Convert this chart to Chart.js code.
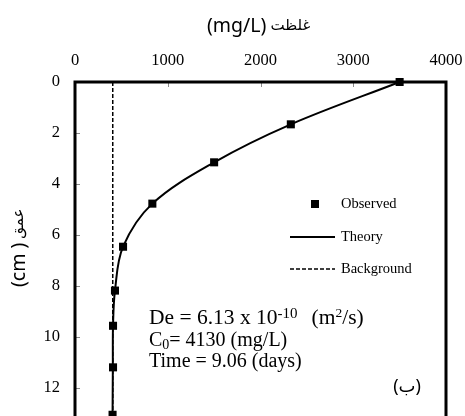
<!DOCTYPE html>
<html>
<head>
<meta charset="utf-8">
<script src="https://cdn.jsdelivr.net/npm/chart.js@4"></script>
<style>
  html, body { margin: 0; padding: 0; background: #fff; overflow: hidden; }
</style>
</head>
<body>
<canvas id="chart" width="465" height="450"></canvas>
<script>
// depth (cm) vs concentration (mg/L)
const observedDepth = [0, 1.66, 3.15, 4.77, 6.46, 8.18, 9.56, 11.19, 13.05];
const observedConc  = [3500, 2327, 1500, 834, 518, 431, 410, 410, 405];

const theoryDepth = [0, 1.66, 3.15, 4.77, 6.46, 8.18, 9.56, 11.19, 13.05, 14];
const theoryConc  = [3500, 2327, 1500, 834, 518, 431, 410, 408, 405, 404];

const backgroundDepth = [0, 14];
const backgroundConc  = [407, 407];

const xTicks = [0, 1000, 2000, 3000, 4000];
const yTicks = [0, 2, 4, 6, 8, 10, 12, 14];

const legendLabels = ["Observed", "Theory", "Background"];
const xTitle = ["(mg/L)", "غلظت"];
const yTitle = ["(cm )", "عمق"];
const panelLabel = "(ب)";

const serif = "'Liberation Serif', 'Times New Roman', serif";
const sans = "'Noto Sans', 'DejaVu Sans', sans-serif";

const toPoints = (xs, ys) => xs.map((v, i) => ({ x: v, y: ys[i] }));

// latin part bigger than the arabic word, as in the source figure
function drawTitle(ctx, parts, x0, y0) {
  ctx.textAlign = "left";
  ctx.textBaseline = "middle";
  ctx.font = "19.5px " + sans;
  ctx.fillText(parts[0], x0, y0);
  const w = ctx.measureText(parts[0]).width;
  ctx.font = "15px " + sans;
  ctx.fillText(parts[1], x0 + w + 4, y0);
}

// frame, inside ticks, legend, text box
const extras = {
  id: "extras",
  beforeDatasetsDraw(chart) {
    const { ctx, chartArea: a, scales: { x, y } } = chart;
    ctx.save();
    ctx.strokeStyle = "#8a8a8a";
    ctx.lineWidth = 1;
    xTicks.forEach(v => {
      const px = Math.round(x.getPixelForValue(v)) + 0.5;
      ctx.beginPath(); ctx.moveTo(px, a.top); ctx.lineTo(px, a.top + 5); ctx.stroke();
    });
    yTicks.forEach(v => {
      const py = Math.round(y.getPixelForValue(v)) + 0.5;
      ctx.beginPath(); ctx.moveTo(a.left, py); ctx.lineTo(a.left + 5, py); ctx.stroke();
    });
    ctx.strokeStyle = "#000";
    ctx.lineWidth = 3;
    ctx.beginPath();
    ctx.moveTo(a.left, a.bottom);
    ctx.lineTo(a.left, a.top);
    ctx.lineTo(a.right, a.top);
    ctx.lineTo(a.right, a.bottom);
    ctx.stroke();
    ctx.restore();
  },
  afterDraw(chart) {
    const ctx = chart.ctx;
    ctx.save();
    ctx.fillStyle = "#000";

    // axis titles
    drawTitle(ctx, xTitle, 207, 26);
    ctx.save();
    ctx.translate(19, 287);
    ctx.rotate(-Math.PI / 2);
    drawTitle(ctx, yTitle, 0, 0);
    ctx.restore();

    // legend
    const ds = chart.data.datasets;
    ctx.fillStyle = ds[0].backgroundColor;
    ctx.fillRect(311, 200, 8, 8);
    ctx.strokeStyle = ds[1].borderColor;
    ctx.lineWidth = ds[1].borderWidth;
    ctx.beginPath(); ctx.moveTo(290, 237); ctx.lineTo(335, 237); ctx.stroke();
    ctx.strokeStyle = ds[2].borderColor;
    ctx.lineWidth = ds[2].borderWidth;
    ctx.setLineDash(ds[2].borderDash);
    ctx.beginPath(); ctx.moveTo(290, 269); ctx.lineTo(335, 269); ctx.stroke();
    ctx.setLineDash([]);
    ctx.fillStyle = "#000";
    ctx.font = "14.5px " + serif;
    ctx.textAlign = "left";
    ctx.textBaseline = "middle";
    [204, 237, 269].forEach((yy, i) => ctx.fillText(legendLabels[i], 341, yy));

    // parameters text box: [text, size, baseline shift, extra advance]
    ctx.textBaseline = "alphabetic";
    const line = (parts, x0, base) => {
      let xx = x0;
      parts.forEach(([t, size, shift, gap]) => {
        ctx.font = size + "px " + serif;
        ctx.fillText(t, xx, base + shift);
        xx += ctx.measureText(t).width + (gap || 0);
      });
    };
    line([["De = 6.13 x 10", 21.5, 0], ["-10", 15, -6, 14], ["(m", 21.5, 0], ["2", 13.5, -7], ["/s)", 21.5, 0]], 149, 324);
    line([["C", 20, 0], ["0", 14, 2.5], ["= 4130 (mg/L)", 20, 0]], 149, 346);
    line([["Time = 9.06 (days)", 20, 0]], 149, 366.7);

    ctx.font = "18px " + sans;
    ctx.textAlign = "center";
    ctx.textBaseline = "middle";
    ctx.fillText(panelLabel, 407, 387);
    ctx.restore();
  }
};

new Chart(document.getElementById("chart"), {
  type: "scatter",
  data: {
    datasets: [
      {
        label: legendLabels[0],
        data: toPoints(observedConc, observedDepth),
        pointStyle: "rect",
        pointRadius: 5.7,
        pointHoverRadius: 5.7,
        backgroundColor: "#000",
        borderColor: "#000",
        borderWidth: 0,
        showLine: false,
        clip: false
      },
      {
        label: legendLabels[1],
        data: toPoints(theoryConc, theoryDepth),
        showLine: true,
        tension: 0.35,
        borderColor: "#000",
        borderWidth: 2,
        pointRadius: 0,
        clip: false
      },
      {
        label: legendLabels[2],
        data: toPoints(backgroundConc, backgroundDepth),
        showLine: true,
        borderColor: "#000",
        borderWidth: 1.5,
        borderDash: [4, 2],
        pointRadius: 0,
        clip: false
      }
    ]
  },
  options: {
    responsive: false,
    animation: false,
    events: [],
    layout: { padding: { left: 0, top: 0, right: 19, bottom: 11 } },
    plugins: { legend: { display: false }, tooltip: { enabled: false } },
    scales: {
      x: {
        type: "linear",
        position: "top",
        min: 0,
        max: 4000,
        afterBuildTicks: s => { s.ticks = xTicks.map(v => ({ value: v })); },
        afterFit: s => { s.height = 82; s.paddingLeft = 0; s.paddingRight = 0; },
        grid: { display: false, drawTicks: false },
        border: { display: false },
        ticks: { padding: 11, color: "#000", font: { family: serif, size: 16.5 }, callback: v => String(v) }
      },
      y: {
        type: "linear",
        reverse: true,
        min: 0,
        max: 14,
        afterBuildTicks: s => { s.ticks = yTicks.map(v => ({ value: v })); },
        afterFit: s => { s.width = 75; s.paddingTop = 0; s.paddingBottom = 0; },
        grid: { display: false, drawTicks: false },
        border: { display: false },
        ticks: { padding: 15, color: "#000", font: { family: serif, size: 16.5 }, callback: v => String(v) }
      }
    }
  },
  plugins: [extras]
});
</script>
</body>
</html>
